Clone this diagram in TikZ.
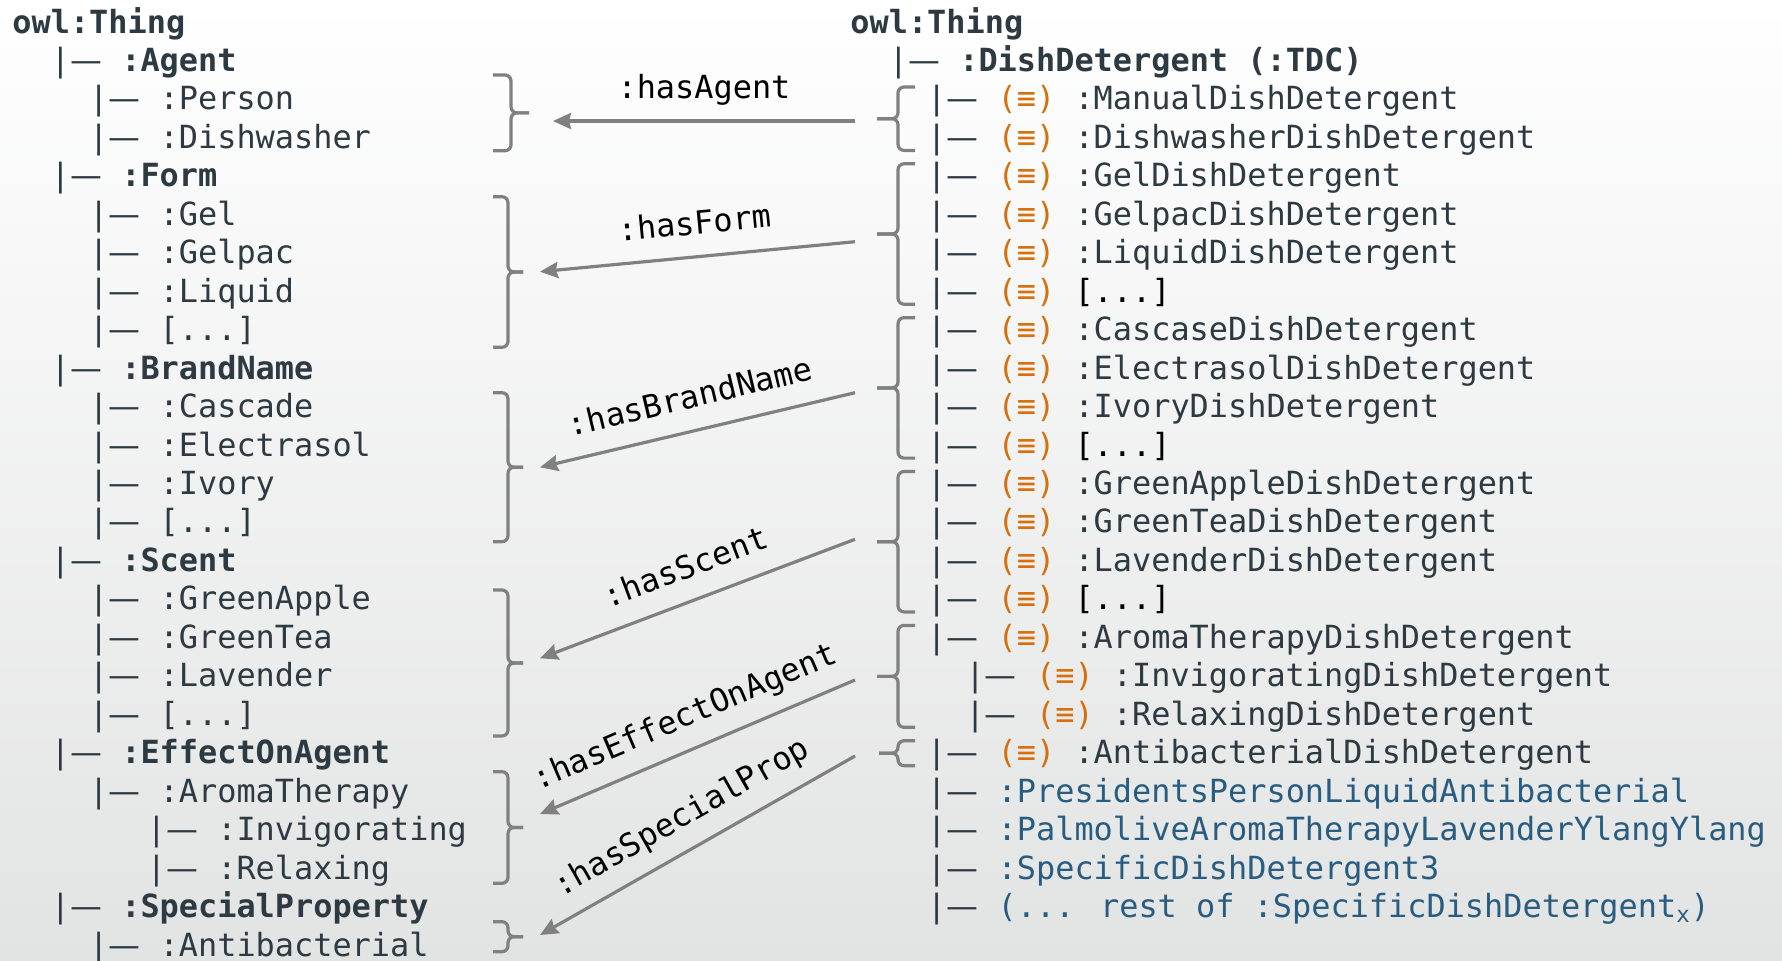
\documentclass[tikz,border=0pt]{standalone}
\usepackage{fontspec}
\usetikzlibrary{arrows.meta}
\newfontfamily\treefont{DejaVu Sans Mono}
\newfontfamily\dashfont{DejaVu Sans}
\definecolor{slate}{RGB}{45,58,66}
\definecolor{eqorange}{RGB}{214,112,12}
\definecolor{indblue}{RGB}{40,92,128}
\definecolor{linegray}{RGB}{128,128,128}
\definecolor{bggray}{RGB}{226,227,227}

% baseline of tree row n (in px)
\newcommand{\ry}[1]{33+38.46*#1}
\newcommand{\tbranch}{\makebox[35.25pt][l]{|{\dashfont —}}}
\newcommand{\eqmark}{\makebox[38.4pt][l]{\textcolor{eqorange}{(≡)}}}
\newcommand{\ind}[1]{\textcolor{indblue}{#1}}

% group braces: spine x, top y, bottom y, tip x
\newcommand{\grpleft}[4]{%
  \draw[grpline] (493,#2) -- (#1,#2) -- (#1,{(#2+#3)/2}) -- (#4,{(#2+#3)/2});
  \draw[grpline] (#4,{(#2+#3)/2}) -- (#1,{(#2+#3)/2}) -- (#1,#3) -- (493,#3);}
\newcommand{\grpright}[4]{%
  \draw[grpline] (915,#2) -- (#1,#2) -- (#1,{(#2+#3)/2}) -- (#4,{(#2+#3)/2});
  \draw[grpline] (#4,{(#2+#3)/2}) -- (#1,{(#2+#3)/2}) -- (#1,#3) -- (915,#3);}

\begin{document}
\begin{tikzpicture}[
    x=0.5pt, y=-0.5pt,
    treetext/.style={font=\treefont\fontsize{15.95pt}{19.2pt}\selectfont},
    row/.style={treetext, anchor=base west, inner sep=0pt, text=slate},
    grpline/.style={draw=linegray, line width=1.6pt, rounded corners=3pt},
    proparrow/.style={draw=linegray, line width=1.6pt, -{Stealth[length=9pt, width=8pt, inset=1pt]}},
    proplabel/.style={treetext, text=black, sloped, anchor=south, text depth=4pt, inner xsep=0pt, inner ysep=6.5pt}
]
    % background
    \shade[top color=white, bottom color=bggray] (0,0) rectangle (1782,960);
    \useasboundingbox (0,0) rectangle (1782,960);

    % Left tree
    \node[row] (lthing) at (12,\ry{0}) {\textbf{owl:Thing}};
    \node[row] (lagent) at (50.4,\ry{1}) {\tbranch\textbf{:Agent}};
    \node[row] (lperson) at (88.8,\ry{2}) {\tbranch:Person};
    \node[row] (ldishwasher) at (88.8,\ry{3}) {\tbranch:Dishwasher};
    \node[row] (lform) at (50.4,\ry{4}) {\tbranch\textbf{:Form}};
    \node[row] (lgel) at (88.8,\ry{5}) {\tbranch:Gel};
    \node[row] (lgelpac) at (88.8,\ry{6}) {\tbranch:Gelpac};
    \node[row] (lliquid) at (88.8,\ry{7}) {\tbranch:Liquid};
    \node[row] (lformmore) at (88.8,\ry{8}) {\tbranch[...]};
    \node[row] (lbrand) at (50.4,\ry{9}) {\tbranch\textbf{:BrandName}};
    \node[row] (lcascade) at (88.8,\ry{10}) {\tbranch:Cascade};
    \node[row] (lelectrasol) at (88.8,\ry{11}) {\tbranch:Electrasol};
    \node[row] (livory) at (88.8,\ry{12}) {\tbranch:Ivory};
    \node[row] (lbrandmore) at (88.8,\ry{13}) {\tbranch[...]};
    \node[row] (lscent) at (50.4,\ry{14}) {\tbranch\textbf{:Scent}};
    \node[row] (lgreenapple) at (88.8,\ry{15}) {\tbranch:GreenApple};
    \node[row] (lgreentea) at (88.8,\ry{16}) {\tbranch:GreenTea};
    \node[row] (llavender) at (88.8,\ry{17}) {\tbranch:Lavender};
    \node[row] (lscentmore) at (88.8,\ry{18}) {\tbranch[...]};
    \node[row] (leffect) at (50.4,\ry{19}) {\tbranch\textbf{:EffectOnAgent}};
    \node[row] (laroma) at (88.8,\ry{20}) {\tbranch:AromaTherapy};
    \node[row] (linvig) at (146.4,\ry{21}) {\tbranch:Invigorating};
    \node[row] (lrelax) at (146.4,\ry{22}) {\tbranch:Relaxing};
    \node[row] (lspecial) at (50.4,\ry{23}) {\tbranch\textbf{:SpecialProperty}};
    \node[row] (lantibac) at (88.8,\ry{24}) {\tbranch:Antibacterial};

    % Right tree
    \node[row] (rthing) at (850,\ry{0}) {\textbf{owl:Thing}};
    \node[row] (rdish) at (888.4,\ry{1}) {\tbranch\textbf{:DishDetergent (:TDC)}};
    \node[row] (rmanual) at (926.8,\ry{2}) {\tbranch\eqmark:ManualDishDetergent};
    \node[row] (rdishwasher) at (926.8,\ry{3}) {\tbranch\eqmark:DishwasherDishDetergent};
    \node[row] (rgel) at (926.8,\ry{4}) {\tbranch\eqmark:GelDishDetergent};
    \node[row] (rgelpac) at (926.8,\ry{5}) {\tbranch\eqmark:GelpacDishDetergent};
    \node[row] (rliquid) at (926.8,\ry{6}) {\tbranch\eqmark:LiquidDishDetergent};
    \node[row] (rformmore) at (926.8,\ry{7}) {\tbranch\eqmark\textcolor{black}{[...]}};
    \node[row] (rcascase) at (926.8,\ry{8}) {\tbranch\eqmark:CascaseDishDetergent};
    \node[row] (relectrasol) at (926.8,\ry{9}) {\tbranch\eqmark:ElectrasolDishDetergent};
    \node[row] (rivory) at (926.8,\ry{10}) {\tbranch\eqmark:IvoryDishDetergent};
    \node[row] (rbrandmore) at (926.8,\ry{11}) {\tbranch\eqmark\textcolor{black}{[...]}};
    \node[row] (rgreenapple) at (926.8,\ry{12}) {\tbranch\eqmark:GreenAppleDishDetergent};
    \node[row] (rgreentea) at (926.8,\ry{13}) {\tbranch\eqmark:GreenTeaDishDetergent};
    \node[row] (rlavender) at (926.8,\ry{14}) {\tbranch\eqmark:LavenderDishDetergent};
    \node[row] (rscentmore) at (926.8,\ry{15}) {\tbranch\eqmark\textcolor{black}{[...]}};
    \node[row] (raroma) at (926.8,\ry{16}) {\tbranch\eqmark:AromaTherapyDishDetergent};
    \node[row] (rinvig) at (965.2,\ry{17}) {\tbranch\eqmark:InvigoratingDishDetergent};
    \node[row] (rrelax) at (965.2,\ry{18}) {\tbranch\eqmark:RelaxingDishDetergent};
    \node[row] (rantibac) at (926.8,\ry{19}) {\tbranch\eqmark:AntibacterialDishDetergent};
    \node[row] (rpresidents) at (926.8,\ry{20}) {\tbranch\ind{:PresidentsPersonLiquidAntibacterial}};
    \node[row] (rpalmolive) at (926.8,\ry{21}) {\tbranch\ind{:PalmoliveAromaTherapyLavenderYlangYlang}};
    \node[row] (rspecific) at (926.8,\ry{22}) {\tbranch\ind{:SpecificDishDetergent3}};
    \node[row] (rrest) at (926.8,\ry{23}) {\tbranch\ind{(... rest of :SpecificDishDetergent\textsubscript{x})}};

    % Left groups
    \grpleft{511}{75}{150.7}{529}
    \grpleft{508}{196.7}{347.3}{523}
    \grpleft{508}{392.7}{541.7}{523}
    \grpleft{508}{590}{736}{523}
    \grpleft{508}{771.7}{883.3}{523}
    \grpleft{508}{921.7}{951.7}{523}

    % Right groups
    \grpright{898}{87}{150.4}{877}
    \grpright{898}{163.8}{304.2}{877}
    \grpright{898}{317.7}{458.1}{877}
    \grpright{898}{471.5}{611.9}{877}
    \grpright{898}{625.4}{727.3}{877}
    \grpright{898}{740.7}{765.7}{879}

    % Property ends
    \coordinate (agentR) at (855,121);    \coordinate (agentL) at (553,121);
    \coordinate (formR) at (855,241.7);   \coordinate (formL) at (540,271.7);
    \coordinate (brandR) at (855,392.7);  \coordinate (brandL) at (540,467.3);
    \coordinate (scentR) at (855,539.3);  \coordinate (scentL) at (540,658.3);
    \coordinate (effectR) at (855,680);   \coordinate (effectL) at (540,814);
    \coordinate (specialR) at (855,756);  \coordinate (specialL) at (540,935);

    % Properties
    \draw[proparrow] (agentR) -- node[proplabel] {:hasAgent} (agentL);
    \draw[proparrow] (formR) -- node[proplabel] {:hasForm} (formL);
    \draw[proparrow] (brandR) -- node[proplabel] {:hasBrandName} (brandL);
    \draw[proparrow] (scentR) -- node[proplabel] {:hasScent} (scentL);
    \draw[proparrow] (effectR) -- node[proplabel] {:hasEffectOnAgent} (effectL);
    \draw[proparrow] (specialR) -- node[proplabel] {:hasSpecialProp} (specialL);

\end{tikzpicture}
\end{document}
